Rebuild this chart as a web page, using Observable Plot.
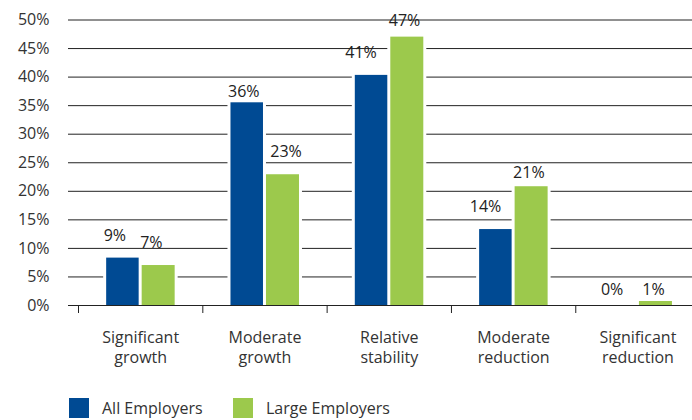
<!DOCTYPE html>
<html>
<head>
<meta charset="utf-8">
<script src="https://cdn.jsdelivr.net/npm/d3@7"></script>
<script src="https://cdn.jsdelivr.net/npm/@observablehq/plot@0.6"></script>
<style>
  body { margin: 0; background: #fff; font-family: "Open Sans", sans-serif; }
  #chart svg { display: block; }
  #legend { display: flex; align-items: center; height: 20px; margin-top: 8px; margin-left: 69px; font-size: 16px; color: #333; }
  #legend .item { display: flex; align-items: center; }
  #legend .item:first-child { width: 164px; }
  #legend .sw { width: 20px; height: 20px; margin-right: 13px; }
</style>
</head>
<body>
<div id="chart"></div>
<div id="legend"></div>
<script>
// ---- data ----
const categories = ["Significant growth", "Moderate growth", "Relative stability", "Moderate reduction", "Significant reduction"];
const categoryLines = ["Significant\ngrowth", "Moderate\ngrowth", "Relative\nstability", "Moderate\nreduction", "Significant\nreduction"];
const seriesNames = ["All Employers", "Large Employers"];
const allEmployers = [8.3, 35.5, 40.3, 13.3, 0];
const largeEmployers = [7.0, 22.9, 47.0, 20.8, 0.7];
const allLabels = ["9%", "36%", "41%", "14%", "0%"];
const largeLabels = ["7%", "23%", "47%", "21%", "1%"];
const yTicks = [0, 5, 10, 15, 20, 25, 30, 35, 40, 45, 50];

// ---- styling ----
const colors = ["#004A93", "#9CC94C"];
const W = 692, H = 390;
const xRange = [78, 699.6];
const bw = (xRange[1] - xRange[0]) / categories.length;
const seriesGeom = [
  {values: allEmployers, labels: allLabels, color: colors[0], insetLeft: bw / 2 - 34, insetRight: bw / 2 + 1.5, labelDx: -37},
  {values: largeEmployers, labels: largeLabels, color: colors[1], insetLeft: bw / 2 + 1.5, insetRight: bw / 2 - 34.5, labelDx: -0.5}
];
// small label nudges to follow the original placement
const nudge = {
  "0:1": {dy: -5.3}, "0:2": {dx: -7}, "0:3": {dx: -6.8}, "0:4": {dy: -10.5},
  "1:1": {dx: 5.8}, "1:2": {dy: -10.7}, "1:3": {dy: -8.4}, "1:4": {dx: 4.9, dy: -6.5}
};
const idx = categories.map((_, i) => i);
const lineLabel = new Map(categories.map((c, i) => [c, categoryLines[i]]));

const marks = [
  Plot.ruleY(yTicks.filter(d => d > 0), {stroke: "#222", strokeWidth: 1})
];
seriesGeom.forEach(s => {
  marks.push(Plot.barY(idx, {x: i => categories[i], y: i => s.values[i], fill: "#fff", stroke: "#fff", strokeWidth: 6, insetLeft: s.insetLeft, insetRight: s.insetRight}));
});
seriesGeom.forEach(s => {
  marks.push(Plot.barY(idx, {x: i => categories[i], y: i => s.values[i], fill: s.color, insetLeft: s.insetLeft, insetRight: s.insetRight}));
});
marks.push(Plot.ruleY([0], {stroke: "#222", strokeWidth: 1}));
seriesGeom.forEach((s, si) => {
  idx.forEach(i => {
    const n = nudge[si + ":" + i] || {};
    marks.push(Plot.text([i], {
      x: j => categories[j], y: j => s.values[j], text: j => s.labels[j],
      textAnchor: "start", lineAnchor: "bottom",
      dx: s.labelDx + (n.dx || 0), dy: (n.dy !== undefined ? n.dy : -17.5),
      fontSize: 16, fill: "#222"
    }));
  });
});
marks.push(Plot.axisY({ticks: yTicks, tickFormat: d => d + "%", tickSize: 0, tickPadding: 19, fontSize: 16, fill: "#333", label: null}));
marks.push(Plot.axisX({tickSize: 8, tickFormat: () => "", dx: -bw / 2, stroke: "#222", label: null}));
marks.push(Plot.axisX({tickSize: 0, tickPadding: 23.6, tickFormat: d => lineLabel.get(d), fontSize: 16, lineHeight: 1.25, fill: "#333", label: null}));

const chart = Plot.plot({
  width: W, height: H,
  marginLeft: 68, marginRight: 0, marginTop: 19.5, marginBottom: H - 305,
  style: {fontFamily: "Open Sans, sans-serif", fontSize: "16px", background: "#fff", color: "#333"},
  x: {type: "band", domain: categories, range: xRange, padding: 0, round: false},
  y: {domain: [0, 50]},
  marks
});
document.getElementById("chart").appendChild(chart);

const legend = document.getElementById("legend");
seriesNames.forEach((name, i) => {
  const item = document.createElement("div");
  item.className = "item";
  const sw = document.createElement("div");
  sw.className = "sw";
  sw.style.background = colors[i];
  const t = document.createElement("span");
  t.textContent = name;
  item.appendChild(sw); item.appendChild(t);
  legend.appendChild(item);
});
</script>
</body>
</html>
